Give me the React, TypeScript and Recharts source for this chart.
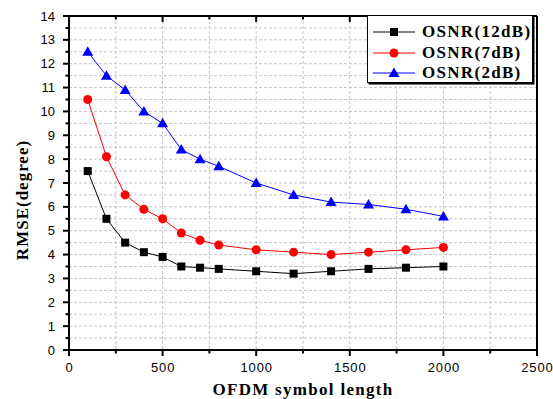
import { LineChart, Line, XAxis, YAxis, CartesianGrid } from "recharts";

const symbolLength = [100, 200, 300, 400, 500, 600, 700, 800, 1000, 1200, 1400, 1600, 1800, 2000];
const osnr12 = [7.5, 5.5, 4.5, 4.1, 3.9, 3.5, 3.45, 3.4, 3.3, 3.2, 3.3, 3.4, 3.45, 3.5];
const osnr7 = [10.5, 8.1, 6.5, 5.9, 5.5, 4.9, 4.6, 4.4, 4.2, 4.1, 4.0, 4.1, 4.2, 4.3];
const osnr2 = [12.5, 11.5, 10.9, 10.0, 9.5, 8.4, 8.0, 7.7, 7.0, 6.5, 6.2, 6.1, 5.9, 5.6];

const xTicks = [0, 250, 500, 750, 1000, 1250, 1500, 1750, 2000, 2250, 2500];
const yTicks = [0, 0.5, 1, 1.5, 2, 2.5, 3, 3.5, 4, 4.5, 5, 5.5, 6, 6.5, 7, 7.5, 8, 8.5, 9, 9.5, 10, 10.5, 11, 11.5, 12, 12.5, 13, 13.5, 14];

const data = symbolLength.map((x, i) => ({
  x,
  osnr12: osnr12[i],
  osnr7: osnr7[i],
  osnr2: osnr2[i],
}));

const sans = "'Liberation Sans', Arial, sans-serif";
const serif = "'Liberation Serif', 'Times New Roman', serif";

const isMajorX = (v: number) => v % 500 === 0;
const isMajorY = (v: number) => Number.isInteger(v);

const BottomTick = (props: any) => {
  const { x, y, payload } = props;
  const major = isMajorX(payload.value);
  return (
    <g>
      <line x1={x} x2={x} y1={y} y2={y + (major ? 6 : 3.5)} stroke="#000" strokeWidth={2} />
      {major && (
        <text
          x={x + 0.5}
          y={y + 22}
          textAnchor="middle"
          fontSize={13}
          letterSpacing={0.9}
          fontFamily={sans}
          fill="#000"
        >
          {payload.value}
        </text>
      )}
    </g>
  );
};

const LeftTick = (props: any) => {
  const { x, y, payload } = props;
  const major = isMajorY(payload.value);
  return (
    <g>
      <line x1={x} x2={x - (major ? 6 : 3.5)} y1={y} y2={y} stroke="#000" strokeWidth={2} />
      {major && (
        <text x={x - 14} y={y + 4.5} textAnchor="end" fontSize={13} fontFamily={sans} fill="#000">
          {payload.value}
        </text>
      )}
    </g>
  );
};

const TopTick = (props: any) => {
  const { x, y, payload } = props;
  const major = isMajorX(payload.value);
  return <line x1={x} x2={x} y1={y} y2={y + (major ? 6 : 3.5)} stroke="#000" strokeWidth={2} />;
};

const RightTick = (props: any) => {
  const { x, y, payload } = props;
  const major = isMajorY(payload.value);
  return <line x1={x} x2={x - (major ? 6 : 3.5)} y1={y} y2={y} stroke="#000" strokeWidth={2} />;
};

const SquareDot = (props: any) => {
  const { cx, cy, index } = props;
  if (cx == null || cy == null) return <g key={index} />;
  return <rect key={index} x={cx - 4} y={cy - 4} width={8} height={8} fill="#000" />;
};

const CircleDot = (props: any) => {
  const { cx, cy, index } = props;
  if (cx == null || cy == null) return <g key={index} />;
  return <circle key={index} cx={cx} cy={cy} r={4.5} fill="#ff0000" />;
};

const TriangleDot = (props: any) => {
  const { cx, cy, index } = props;
  if (cx == null || cy == null) return <g key={index} />;
  return (
    <polygon
      key={index}
      points={`${cx},${cy - 5.5} ${cx - 5.5},${cy + 4} ${cx + 5.5},${cy + 4}`}
      fill="#0000ff"
    />
  );
};

const legendItems = [
  { name: "OSNR(12dB)", color: "#000000", marker: "square" },
  { name: "OSNR(7dB)", color: "#ff0000", marker: "circle" },
  { name: "OSNR(2dB)", color: "#0000ff", marker: "triangle" },
];

const LegendIcon = ({ color, marker }: { color: string; marker: string }) => (
  <svg width={44} height={14} style={{ display: "block" }}>
    <line x1={0} x2={42} y1={7} y2={7} stroke={color} strokeWidth={1} />
    {marker === "square" && <rect x={17} y={3} width={8} height={8} fill={color} />}
    {marker === "circle" && <circle cx={21} cy={7} r={4.5} fill={color} />}
    {marker === "triangle" && <polygon points="21,1.5 15.5,11 26.5,11" fill={color} />}
  </svg>
);

const XTitle = (props: any) => {
  const { viewBox } = props;
  return (
    <text
      x={viewBox.x + viewBox.width / 2}
      y={395}
      textAnchor="middle"
      fontSize={17}
      fontWeight="bold"
      letterSpacing={1.3}
      fontFamily={serif}
      fill="#000"
    >
      OFDM symbol length
    </text>
  );
};

const YTitle = () => (
  <text
    x={0}
    y={0}
    transform="translate(28,200) rotate(-90)"
    textAnchor="middle"
    fontSize={17}
    fontWeight="bold"
    letterSpacing={1}
    fontFamily={serif}
    fill="#000"
  >
    RMSE(degree)
  </text>
);

export default function App() {
  return (
    <div style={{ position: "absolute", left: 0, top: 0, width: 553, height: 399, background: "#fff" }}>
      <LineChart width={553} height={399} data={data} margin={{ top: 0, right: 0, bottom: 0, left: 0 }}>
        <CartesianGrid stroke="#c4c4c4" strokeDasharray="3 2" strokeWidth={1} />
        <XAxis
          dataKey="x"
          type="number"
          domain={[0, 2500]}
          ticks={xTicks}
          interval={0}
          height={49}
          tickSize={0}
          tickMargin={0}
          tickLine={false}
          axisLine={{ stroke: "#000", strokeWidth: 2 }}
          tick={<BottomTick />}
          label={<XTitle />}
        />
        <XAxis
          xAxisId="top"
          orientation="top"
          dataKey="x"
          type="number"
          domain={[0, 2500]}
          ticks={xTicks}
          interval={0}
          height={16}
          tickSize={0}
          tickMargin={0}
          tickLine={false}
          axisLine={{ stroke: "#000", strokeWidth: 2 }}
          tick={<TopTick />}
        />
        <YAxis
          type="number"
          domain={[0, 14]}
          ticks={yTicks}
          interval={0}
          width={69}
          tickSize={0}
          tickMargin={0}
          tickLine={false}
          axisLine={{ stroke: "#000", strokeWidth: 2 }}
          tick={<LeftTick />}
          label={<YTitle />}
        />
        <YAxis
          yAxisId="right"
          orientation="right"
          type="number"
          domain={[0, 14]}
          ticks={yTicks}
          interval={0}
          width={16}
          tickSize={0}
          tickMargin={0}
          tickLine={false}
          axisLine={{ stroke: "#000", strokeWidth: 2 }}
          tick={<RightTick />}
        />
        <Line
          dataKey="osnr12"
          stroke="#000000"
          strokeWidth={1}
          dot={<SquareDot />}
          activeDot={false}
          isAnimationActive={false}
        />
        <Line
          dataKey="osnr7"
          stroke="#ff0000"
          strokeWidth={1}
          dot={<CircleDot />}
          activeDot={false}
          isAnimationActive={false}
        />
        <Line
          dataKey="osnr2"
          stroke="#0000ff"
          strokeWidth={1}
          dot={<TriangleDot />}
          activeDot={false}
          isAnimationActive={false}
        />
      </LineChart>
      <div
        style={{
          position: "absolute",
          left: 367,
          top: 15,
          width: 166,
          height: 68,
          boxSizing: "border-box",
          border: "1px solid #000",
          boxShadow: "1.5px 1.5px 0 #000",
          background: "#fff",
          paddingLeft: 5,
          paddingTop: 6,
        }}
      >
        {legendItems.map((it) => (
          <div key={it.name} style={{ display: "flex", alignItems: "center", height: 20.5 }}>
            <LegendIcon color={it.color} marker={it.marker} />
            <span
              style={{
                marginLeft: 5,
                fontFamily: serif,
                fontWeight: "bold",
                fontSize: 17,
                letterSpacing: 1.3,
                lineHeight: "20px",
                color: "#000",
              }}
            >
              {it.name}
            </span>
          </div>
        ))}
      </div>
    </div>
  );
}
